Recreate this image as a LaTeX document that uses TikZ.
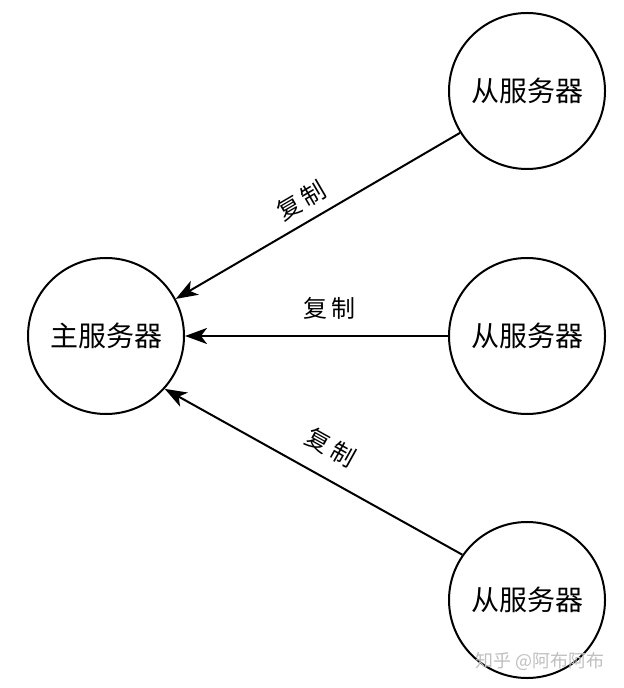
\documentclass[tikz,border=0pt]{standalone}
\usepackage{fontspec}
\newfontfamily\cjk{Noto Sans CJK SC}
\usetikzlibrary{arrows.meta,positioning}

\begin{document}
\begin{tikzpicture}[
    x=0.5pt, y=-0.5pt,
    server/.style={
        draw, circle, line width=1pt,
        minimum size=78pt, inner sep=0pt,
        font=\cjk\fontsize{14pt}{16pt}\selectfont
    },
    copyarrow/.style={
        -{Stealth[length=11pt,width=8pt,inset=3pt]},
        line width=1pt
    },
    copylabel/.style={
        sloped, inner sep=0pt,
        font=\cjk\fontsize{12pt}{14pt}\selectfont
    }
]
\useasboundingbox (0,0) rectangle (624,688);

\node[server] (master) at (106,336) {主服务器};
\node[server, right=131.5pt of master] (slave2) {从服务器};
\node[server, above=43.5pt of slave2] (slave1) {从服务器};
\node[server, below=53pt of slave2] (slave3) {从服务器};

\draw[copyarrow] (slave1.212) -- node[copylabel, pos=0.52, above=5pt] {复\,制} (master.28);
\draw[copyarrow] (slave2.west) -- node[copylabel, pos=0.45, above=8pt] {复\,制} (master.east);
\draw[copyarrow] (slave3.145) -- node[copylabel, pos=0.49, above=9pt] {复\,制} (master.-42);

% watermark
\node[font=\cjk\fontsize{9pt}{10pt}\selectfont, text=black!25] (mark) at (540,661) {知乎 @阿布阿布};
\end{tikzpicture}
\end{document}
